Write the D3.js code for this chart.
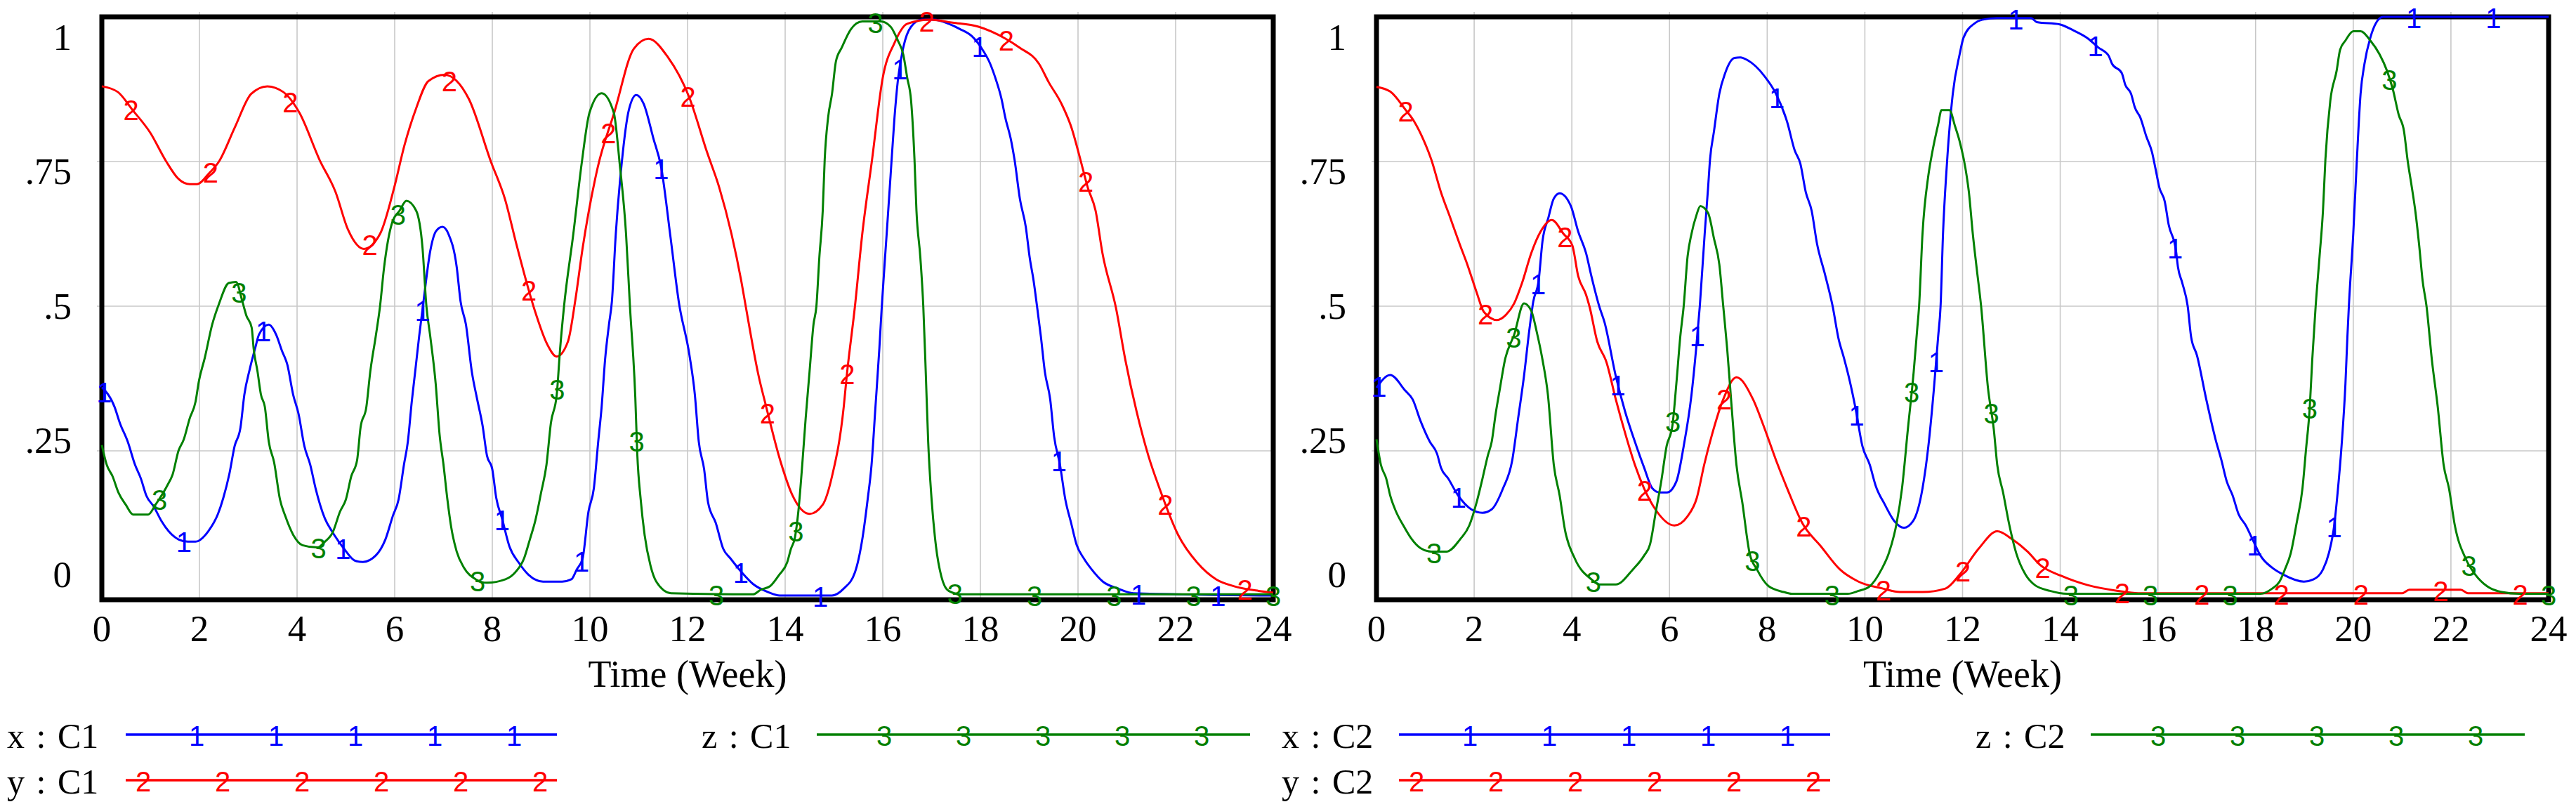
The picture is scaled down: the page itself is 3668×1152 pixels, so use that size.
<!DOCTYPE html>
<html>
<head>
<meta charset="utf-8">
<script src="https://d3js.org/d3.v7.min.js"></script>
<style>
  html, body { margin: 0; padding: 0; background: #fff; }
  svg { display: block; }
</style>
</head>
<body>
<div id="chart"></div>
<script>
// ---- data: [week, value] ----
const TIME_TICKS = d3.range(0, 25, 2);
const VALUE_TICKS = [0, 0.25, 0.5, 0.75, 1];
const VALUE_LABELS = ["0", ".25", ".5", ".75", "1"];
const X_TITLE = "Time (Week)";

const xC1 = [[0,0.36],[0.26,0.326],[0.37,0.298],[0.53,0.266],[0.68,0.226],[0.8,0.202],[0.91,0.173],[1.07,0.153],[1.22,0.129],[1.37,0.111],[1.57,0.097],[1.76,0.093],[1.92,0.093],[2.18,0.111],[2.38,0.141],[2.49,0.169],[2.61,0.209],[2.72,0.258],[2.84,0.29],[2.92,0.347],[3.03,0.391],[3.14,0.427],[3.22,0.451],[3.42,0.468],[3.57,0.451],[3.69,0.423],[3.8,0.399],[3.92,0.347],[4.03,0.314],[4.15,0.258],[4.27,0.226],[4.38,0.185],[4.57,0.133],[4.73,0.109],[4.96,0.081],[5.19,0.06],[5.35,0.058],[5.61,0.069],[5.81,0.097],[5.96,0.137],[6.08,0.166],[6.19,0.226],[6.27,0.266],[6.35,0.335],[6.42,0.387],[6.5,0.447],[6.59,0.508],[6.73,0.596],[6.85,0.63],[6.98,0.637],[7.1,0.625],[7.27,0.568],[7.35,0.508],[7.46,0.468],[7.58,0.387],[7.69,0.339],[7.8,0.294],[7.89,0.242],[8.0,0.218],[8.08,0.169],[8.2,0.133],[8.35,0.085],[8.54,0.057],[8.74,0.036],[9.04,0.024],[9.43,0.024],[9.62,0.028],[9.73,0.045],[9.85,0.064],[9.97,0.145],[10.08,0.185],[10.17,0.266],[10.24,0.326],[10.31,0.407],[10.39,0.468],[10.45,0.508],[10.53,0.625],[10.65,0.746],[10.8,0.84],[10.95,0.865],[11.1,0.85],[11.3,0.79],[11.46,0.74],[11.65,0.62],[11.82,0.508],[12.04,0.415],[12.15,0.347],[12.23,0.266],[12.34,0.218],[12.42,0.161],[12.58,0.125],[12.73,0.081],[12.88,0.064],[13.11,0.04],[13.34,0.02],[13.65,0.006],[13.89,0.0],[14.96,0.0],[15.2,0.012],[15.43,0.04],[15.58,0.097],[15.69,0.166],[15.77,0.226],[15.85,0.326],[15.93,0.427],[15.98,0.5],[16.08,0.625],[16.16,0.726],[16.24,0.826],[16.31,0.891],[16.42,0.947],[16.58,0.983],[16.8,0.995],[17.04,0.995],[17.35,0.988],[17.58,0.979],[17.82,0.967],[18.03,0.945],[18.2,0.919],[18.32,0.891],[18.43,0.859],[18.51,0.826],[18.63,0.786],[18.7,0.753],[18.81,0.685],[18.93,0.637],[19.01,0.584],[19.09,0.544],[19.16,0.5],[19.24,0.447],[19.32,0.387],[19.43,0.339],[19.51,0.275],[19.63,0.226],[19.74,0.166],[19.86,0.125],[19.97,0.088],[20.12,0.064],[20.28,0.045],[20.51,0.024],[20.82,0.012],[21.13,0.004],[24,0.0]];

const yC1 = [[0,0.88],[0.33,0.87],[0.62,0.84],[0.99,0.8],[1.32,0.75],[1.57,0.72],[1.8,0.711],[1.95,0.711],[2.2,0.73],[2.4,0.75],[2.73,0.81],[3.06,0.867],[3.39,0.88],[3.72,0.87],[4.05,0.834],[4.46,0.753],[4.79,0.697],[5.04,0.633],[5.37,0.599],[5.7,0.625],[5.99,0.705],[6.2,0.778],[6.44,0.842],[6.69,0.889],[7.02,0.9],[7.52,0.858],[7.97,0.75],[8.26,0.685],[8.5,0.605],[8.88,0.49],[9.12,0.435],[9.32,0.413],[9.55,0.439],[9.7,0.51],[9.85,0.6],[10.16,0.74],[10.5,0.835],[10.9,0.945],[11.2,0.962],[11.6,0.93],[12.03,0.862],[12.4,0.766],[12.65,0.705],[12.9,0.625],[13.1,0.544],[13.2,0.496],[13.46,0.378],[13.6,0.33],[13.9,0.233],[14.15,0.173],[14.5,0.141],[14.77,0.157],[14.96,0.206],[15.2,0.326],[15.26,0.378],[15.43,0.5],[15.58,0.625],[15.78,0.753],[16.0,0.895],[16.24,0.955],[16.5,0.988],[16.97,0.995],[17.43,0.99],[17.96,0.983],[18.5,0.963],[18.8,0.947],[19.2,0.919],[19.4,0.887],[19.66,0.85],[19.86,0.81],[20.05,0.753],[20.2,0.705],[20.36,0.665],[20.5,0.592],[20.78,0.496],[20.97,0.407],[21.2,0.318],[21.44,0.242],[21.67,0.185],[22.05,0.105],[22.44,0.057],[22.83,0.028],[23.2,0.016],[23.7,0.008],[24,0.005]];

const zC1 = [[0,0.26],[0.1,0.226],[0.22,0.206],[0.34,0.178],[0.49,0.157],[0.64,0.14],[0.95,0.14],[1.1,0.157],[1.34,0.19],[1.45,0.209],[1.57,0.25],[1.68,0.27],[1.8,0.306],[1.92,0.335],[1.99,0.371],[2.11,0.411],[2.26,0.468],[2.4,0.504],[2.6,0.54],[2.75,0.542],[2.88,0.508],[2.96,0.484],[3.07,0.463],[3.11,0.427],[3.19,0.387],[3.26,0.347],[3.34,0.326],[3.42,0.266],[3.53,0.23],[3.65,0.166],[3.76,0.137],[3.92,0.105],[4.11,0.087],[4.42,0.083],[4.57,0.093],[4.73,0.109],[4.88,0.145],[5.0,0.166],[5.11,0.206],[5.23,0.234],[5.3,0.29],[5.42,0.326],[5.5,0.387],[5.61,0.447],[5.7,0.5],[5.78,0.565],[5.95,0.645],[6.1,0.665],[6.24,0.682],[6.44,0.665],[6.57,0.601],[6.65,0.5],[6.73,0.447],[6.84,0.366],[6.92,0.278],[7.0,0.226],[7.08,0.166],[7.16,0.117],[7.27,0.076],[7.42,0.048],[7.66,0.028],[7.89,0.022],[8.27,0.028],[8.47,0.04],[8.65,0.064],[8.77,0.097],[8.88,0.129],[9.0,0.178],[9.11,0.226],[9.2,0.298],[9.32,0.347],[9.39,0.427],[9.47,0.5],[9.66,0.625],[9.83,0.746],[9.99,0.834],[10.24,0.868],[10.49,0.834],[10.61,0.746],[10.74,0.625],[10.82,0.5],[10.93,0.342],[10.97,0.245],[11.04,0.166],[11.12,0.105],[11.24,0.052],[11.36,0.024],[11.66,0.004],[13.34,0.002],[13.5,0.01],[13.69,0.016],[13.88,0.036],[14.04,0.057],[14.12,0.081],[14.2,0.1],[14.27,0.145],[14.35,0.226],[14.42,0.306],[14.5,0.387],[14.58,0.468],[14.64,0.5],[14.7,0.584],[14.77,0.665],[14.81,0.753],[14.88,0.826],[14.96,0.867],[15.04,0.923],[15.16,0.947],[15.35,0.979],[15.58,0.992],[15.96,0.992],[16.16,0.983],[16.31,0.959],[16.42,0.935],[16.5,0.895],[16.58,0.855],[16.65,0.753],[16.69,0.665],[16.77,0.584],[16.83,0.5],[16.88,0.387],[16.93,0.266],[17.0,0.166],[17.09,0.085],[17.2,0.033],[17.35,0.008],[17.6,0.002],[24,0.002]];

const xC2 = [[0,0.359],[0.28,0.381],[0.59,0.354],[0.74,0.339],[0.9,0.302],[1.09,0.266],[1.24,0.245],[1.32,0.221],[1.47,0.202],[1.67,0.173],[1.94,0.149],[2.17,0.143],[2.36,0.149],[2.59,0.185],[2.78,0.234],[2.9,0.306],[3.02,0.379],[3.13,0.459],[3.21,0.508],[3.32,0.544],[3.4,0.613],[3.52,0.653],[3.63,0.686],[3.75,0.695],[3.98,0.673],[4.13,0.629],[4.29,0.592],[4.4,0.552],[4.56,0.5],[4.67,0.472],[4.9,0.379],[5.09,0.318],[5.29,0.266],[5.48,0.221],[5.65,0.185],[5.8,0.178],[5.95,0.178],[6.14,0.197],[6.29,0.258],[6.45,0.347],[6.55,0.431],[6.62,0.5],[6.72,0.625],[6.79,0.705],[6.83,0.754],[6.91,0.802],[7.02,0.867],[7.14,0.903],[7.33,0.929],[7.45,0.93],[7.6,0.925],[7.94,0.898],[8.18,0.867],[8.41,0.818],[8.56,0.77],[8.68,0.746],[8.79,0.697],[8.91,0.665],[9.02,0.608],[9.18,0.556],[9.34,0.5],[9.46,0.444],[9.57,0.411],[9.69,0.371],[9.81,0.323],[9.95,0.258],[10.1,0.226],[10.22,0.19],[10.41,0.157],[10.6,0.129],[10.8,0.117],[10.99,0.129],[11.18,0.185],[11.3,0.258],[11.41,0.354],[11.5,0.447],[11.55,0.5],[11.6,0.625],[11.68,0.746],[11.8,0.867],[11.94,0.935],[12.02,0.964],[12.25,0.989],[12.4,0.995],[12.7,0.998],[13.4,0.998],[13.52,0.991],[13.99,0.987],[14.26,0.977],[14.56,0.963],[14.78,0.947],[14.99,0.933],[15.06,0.919],[15.26,0.903],[15.33,0.883],[15.45,0.867],[15.53,0.843],[15.64,0.826],[15.76,0.794],[15.88,0.766],[15.95,0.738],[16.03,0.705],[16.14,0.681],[16.22,0.641],[16.37,0.596],[16.41,0.568],[16.5,0.54],[16.61,0.5],[16.68,0.447],[16.8,0.415],[16.99,0.339],[17.18,0.27],[17.3,0.234],[17.41,0.197],[17.53,0.173],[17.65,0.141],[17.8,0.121],[17.96,0.093],[18.1,0.069],[18.34,0.048],[18.57,0.036],[18.99,0.024],[19.19,0.028],[19.38,0.045],[19.5,0.073],[19.61,0.121],[19.68,0.178],[19.76,0.258],[19.84,0.366],[19.88,0.447],[19.91,0.5],[20.0,0.625],[20.07,0.746],[20.15,0.867],[20.23,0.919],[20.35,0.964],[20.47,0.99],[20.61,1.0],[24,1.0]];

const yC2 = [[0,0.879],[0.28,0.871],[0.59,0.84],[0.78,0.818],[0.97,0.786],[1.12,0.754],[1.32,0.697],[1.51,0.653],[1.7,0.608],[1.86,0.572],[2.05,0.524],[2.2,0.49],[2.47,0.476],[2.65,0.485],[2.82,0.505],[2.98,0.54],[3.17,0.592],[3.36,0.629],[3.59,0.649],[3.83,0.625],[4.01,0.605],[4.13,0.552],[4.29,0.52],[4.36,0.5],[4.52,0.439],[4.71,0.403],[4.9,0.339],[5.1,0.278],[5.29,0.226],[5.48,0.185],[5.71,0.149],[6.1,0.121],[6.37,0.137],[6.56,0.169],[6.71,0.226],[6.87,0.278],[7.1,0.339],[7.37,0.377],[7.71,0.339],[7.94,0.29],[8.18,0.234],[8.41,0.185],[8.72,0.125],[9.1,0.085],[9.49,0.045],[9.87,0.024],[10.37,0.012],[10.72,0.006],[11.18,0.006],[11.65,0.012],[11.94,0.036],[12.33,0.081],[12.71,0.111],[13.02,0.097],[13.33,0.076],[13.6,0.052],[14.02,0.034],[14.56,0.018],[15.18,0.008],[15.6,0.004],[21.0,0.004],[21.15,0.01],[22.2,0.01],[22.35,0.004],[24,0.004]];

const zC2 = [[0,0.27],[0.09,0.226],[0.2,0.202],[0.28,0.173],[0.4,0.145],[0.55,0.121],[0.7,0.1],[0.9,0.082],[1.12,0.076],[1.44,0.076],[1.71,0.097],[1.9,0.121],[2.05,0.161],[2.17,0.202],[2.28,0.242],[2.36,0.266],[2.44,0.314],[2.52,0.354],[2.63,0.407],[2.82,0.451],[3.02,0.505],[3.17,0.492],[3.28,0.456],[3.4,0.407],[3.51,0.347],[3.63,0.226],[3.75,0.173],[3.86,0.113],[4.06,0.064],[4.4,0.028],[4.56,0.019],[4.9,0.019],[5.25,0.045],[5.48,0.069],[5.6,0.088],[5.72,0.145],[5.83,0.197],[5.94,0.258],[6.06,0.294],[6.14,0.366],[6.22,0.447],[6.29,0.5],[6.37,0.586],[6.45,0.625],[6.55,0.657],[6.63,0.673],[6.79,0.661],[6.91,0.617],[7.02,0.572],[7.1,0.5],[7.18,0.427],[7.26,0.339],[7.37,0.226],[7.49,0.161],[7.64,0.073],[7.79,0.045],[8.03,0.016],[8.34,0.006],[8.5,0.003],[9.65,0.003],[9.87,0.008],[10.1,0.016],[10.34,0.045],[10.49,0.073],[10.65,0.125],[10.76,0.185],[10.88,0.287],[11.0,0.387],[11.07,0.459],[11.11,0.5],[11.18,0.625],[11.3,0.726],[11.38,0.766],[11.5,0.814],[11.57,0.839],[11.73,0.839],[11.85,0.81],[11.94,0.785],[12.06,0.738],[12.13,0.697],[12.21,0.625],[12.29,0.565],[12.38,0.5],[12.52,0.359],[12.64,0.287],[12.71,0.226],[12.83,0.178],[12.95,0.125],[13.1,0.073],[13.29,0.036],[13.48,0.018],[13.79,0.008],[14.14,0.003],[18.1,0.003],[18.34,0.012],[18.49,0.024],[18.6,0.045],[18.72,0.073],[18.84,0.125],[18.96,0.185],[19.03,0.25],[19.11,0.326],[19.16,0.407],[19.23,0.5],[19.31,0.586],[19.38,0.665],[19.43,0.754],[19.53,0.855],[19.66,0.907],[19.73,0.943],[19.84,0.959],[20.0,0.975],[20.15,0.975],[20.35,0.959],[20.54,0.935],[20.69,0.907],[20.81,0.875],[20.93,0.831],[21.04,0.802],[21.11,0.754],[21.2,0.705],[21.27,0.665],[21.35,0.605],[21.42,0.544],[21.5,0.5],[21.61,0.407],[21.73,0.326],[21.85,0.226],[21.96,0.185],[22.08,0.121],[22.3,0.064],[22.5,0.036],[22.74,0.016],[23.04,0.006],[23.4,0.003],[24,0.003]];

const SERIES_NAMES = ["x", "y", "z"];
const SERIES_DIGITS = ["1", "2", "3"];
const SERIES_COLORS = ["#0000ff", "#ff0000", "#008000"];
const RUN_NAMES = ["C1", "C2"];
const RUN_DATA = [[xC1, yC1, zC1], [xC2, yC2, zC2]];

// ---- layout ----
const W = 3668, H = 1152;
const SERIF = "'Liberation Serif', 'Times New Roman', serif";
const SANS = "'Liberation Sans', Arial, sans-serif";
const MARKER_STEP = 1.63;               // weeks between line numbers
const MARKER_START = [0.05, 0.6, 1.18];
const LEGEND_MARK_START = [101, 25, 96];
const LEGEND_MARK_STEP = 113;

const panels = [
  {left: 145, right: 1813, legend: [
    {text: 10, line: [179, 793], row: 0},
    {text: 10, line: [179, 793], row: 1},
    {text: 999, line: [1163, 1780], row: 0}]},
  {left: 1960, right: 3629, legend: [
    {text: 1825, line: [1992, 2606], row: 0},
    {text: 1825, line: [1992, 2606], row: 1},
    {text: 2813, line: [2977, 3595], row: 0}]}
];
const TOP = 24, ZERO = 848, BOTTOM = 854;
const LEGEND_ROWS = [1046, 1111];

const svg = d3.select('#chart').append('svg')
  .attr('width', W).attr('height', H)
  .attr('viewBox', `0 0 ${W} ${H}`);

const y = d3.scaleLinear().domain([0, 1]).range([ZERO, TOP]);
// Vensim spreads the value labels a little inside the frame
const yLabel = d3.scaleLinear().domain([0, 1]).range([818, 53]);

panels.forEach((p, pi) => {
  const x = d3.scaleLinear().domain([0, 24]).range([p.left, p.right]);
  const g = svg.append('g');

  // grid
  g.append('g').selectAll('line.vgrid')
    .data(TIME_TICKS.filter(t => t > 0 && t < 24))
    .join('line')
    .attr('x1', d => x(d)).attr('x2', d => x(d))
    .attr('y1', TOP - 7).attr('y2', BOTTOM)
    .attr('stroke', '#c8c8c8').attr('stroke-width', 1.6);
  g.append('g').selectAll('line.hgrid')
    .data(VALUE_TICKS.filter(v => v > 0 && v < 1))
    .join('line')
    .attr('x1', p.left - 7).attr('x2', p.right)
    .attr('y1', d => y(d)).attr('y2', d => y(d))
    .attr('stroke', '#c8c8c8').attr('stroke-width', 1.6);

  // frame
  g.append('rect')
    .attr('x', p.left).attr('y', TOP)
    .attr('width', p.right - p.left).attr('height', BOTTOM - TOP)
    .attr('fill', 'none').attr('stroke', '#000').attr('stroke-width', 7);

  // value labels
  g.append('g').selectAll('text')
    .data(VALUE_TICKS)
    .join('text')
    .attr('x', p.left - 43)
    .attr('y', d => yLabel(d))
    .attr('dy', '0.34em')
    .attr('text-anchor', 'end')
    .attr('font-family', SERIF).attr('font-size', 53)
    .text((d, i) => VALUE_LABELS[i]);

  // time labels
  g.append('g').selectAll('text')
    .data(TIME_TICKS)
    .join('text')
    .attr('x', d => x(d)).attr('y', 913)
    .attr('text-anchor', 'middle')
    .attr('font-family', SERIF).attr('font-size', 53)
    .text(d => d);

  g.append('text')
    .attr('x', (p.left + p.right) / 2).attr('y', 978)
    .attr('text-anchor', 'middle')
    .attr('font-family', SERIF).attr('font-size', 54)
    .text(X_TITLE);

  // series
  const line = d3.line()
    .x(d => x(d[0])).y(d => y(d[1]))
    .curve(d3.curveMonotoneX);

  RUN_DATA[pi].forEach((data, si) => {
    g.append('path')
      .datum(data)
      .attr('d', line)
      .attr('fill', 'none')
      .attr('stroke', SERIES_COLORS[si])
      .attr('stroke-width', 3)
      .attr('stroke-linejoin', 'round');
  });

  RUN_DATA[pi].forEach((data, si) => {
    const at = d3.scaleLinear().domain(data.map(d => d[0])).range(data.map(d => d[1]));
    const times = d3.range(MARKER_START[si], 24.05, MARKER_STEP);
    g.append('g').selectAll('text')
      .data(times)
      .join('text')
      .attr('x', d => x(d)).attr('y', d => y(at(d)))
      .attr('dy', '0.41em')
      .attr('text-anchor', 'middle')
      .attr('font-family', SANS).attr('font-size', 40)
      .attr('fill', SERIES_COLORS[si])
      .text(SERIES_DIGITS[si]);
  });

  // legend
  p.legend.forEach((L, si) => {
    const ly = LEGEND_ROWS[L.row];
    const lg = g.append('g');
    lg.append('text')
      .attr('x', L.text).attr('y', ly + 19)
      .attr('font-family', SERIF).attr('font-size', 50)
      .attr('word-spacing', 4)
      .text(`${SERIES_NAMES[si]} : ${RUN_NAMES[pi]}`);
    lg.append('line')
      .attr('x1', L.line[0]).attr('x2', L.line[1])
      .attr('y1', ly).attr('y2', ly)
      .attr('stroke', SERIES_COLORS[si]).attr('stroke-width', 3.5);
    const marks = d3.range(L.line[0] + LEGEND_MARK_START[si], L.line[1] - 10, LEGEND_MARK_STEP);
    lg.selectAll('text.mark')
      .data(marks)
      .join('text')
      .attr('class', 'mark')
      .attr('x', d => d).attr('y', ly)
      .attr('dy', '0.41em')
      .attr('text-anchor', 'middle')
      .attr('font-family', SANS).attr('font-size', 40)
      .attr('fill', SERIES_COLORS[si])
      .text(SERIES_DIGITS[si]);
  });
});
</script>
</body>
</html>
